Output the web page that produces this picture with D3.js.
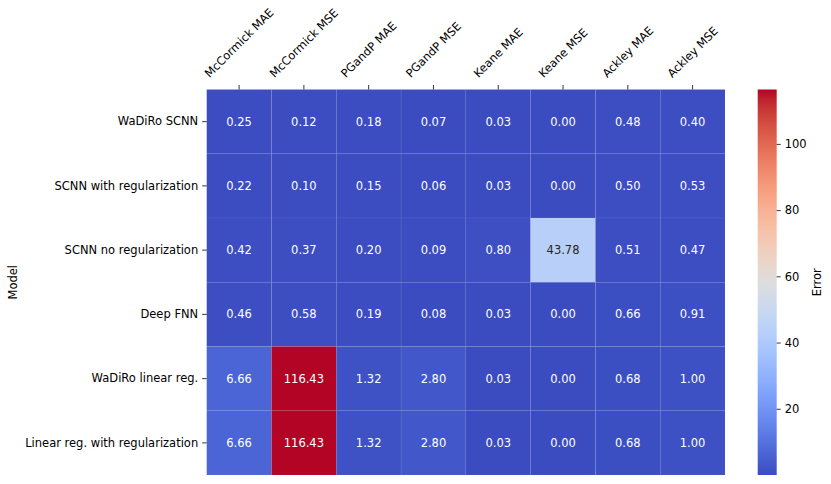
<!DOCTYPE html>
<html><head><meta charset="utf-8">
<script src="https://cdn.jsdelivr.net/npm/d3@7"></script>
<style>body{margin:0;background:#fff}text{font-family:"DejaVu Sans",sans-serif}</style>
</head><body><svg id="c" width="831" height="484"></svg>
<script>
const models = ["WaDiRo SCNN","SCNN with regularization","SCNN no regularization","Deep FNN","WaDiRo linear reg.","Linear reg. with regularization"];
const metrics = ["McCormick MAE","McCormick MSE","PGandP MAE","PGandP MSE","Keane MAE","Keane MSE","Ackley MAE","Ackley MSE"];
const rowWaDiRoSCNN = [0.25,0.12,0.18,0.07,0.03,0.00,0.48,0.40];
const rowSCNNReg    = [0.22,0.10,0.15,0.06,0.03,0.00,0.50,0.53];
const rowSCNNNoReg  = [0.42,0.37,0.20,0.09,0.80,43.78,0.51,0.47];
const rowDeepFNN    = [0.46,0.58,0.19,0.08,0.03,0.00,0.66,0.91];
const rowWaDiRoLin  = [6.66,116.43,1.32,2.80,0.03,0.00,0.68,1.00];
const rowLinReg     = [6.66,116.43,1.32,2.80,0.03,0.00,0.68,1.00];
const values = [rowWaDiRoSCNN,rowSCNNReg,rowSCNNNoReg,rowDeepFNN,rowWaDiRoLin,rowLinReg];
const cbarTicks = [20,40,60,80,100];

// matplotlib coolwarm
const cw = [[0.2298057,0.298717966,0.753683153],[0.26623388,0.353094838,0.801466763],[0.30386891,0.406535296,0.84495867],[0.342804478,0.458757618,0.883725899],[0.38301334,0.50941904,0.917387822],[0.424369608,0.558148092,0.945619588],[0.46666708,0.604562568,0.968154911],[0.509635204,0.648280772,0.98478814],[0.552953156,0.688929332,0.995375608],[0.596262162,0.726149107,0.999836203],[0.639176211,0.759599947,0.998151185],[0.681291281,0.788964712,0.990363227],[0.722193294,0.813952739,0.976574709],[0.761464949,0.834302879,0.956945269],[0.798691636,0.849786142,0.931688648],[0.833466556,0.860207984,0.901068838],[0.865395197,0.86541021,0.865395561],[0.897787179,0.848937047,0.820880546],[0.924127593,0.827384882,0.774508472],[0.944468518,0.800927443,0.726736146],[0.958852946,0.769767752,0.678007945],[0.96732803,0.734132809,0.628751763],[0.969954137,0.694266682,0.579375448],[0.966811177,0.650421156,0.530263762],[0.958003065,0.602842431,0.481775914],[0.943660866,0.551750968,0.434243684],[0.923944917,0.49730856,0.387970225],[0.89904617,0.439559467,0.343229596],[0.869186849,0.378313092,0.300267182],[0.834620542,0.312874446,0.259301199],[0.795631745,0.24128379,0.220525627],[0.752534934,0.157246067,0.184115123],[0.705673158,0.01555616,0.150232812]];
const cwColors = cw.map(c=>d3.rgb(c[0]*255,c[1]*255,c[2]*255));
const coolwarm = d3.scaleLinear().domain(d3.range(cw.length).map(i=>i/(cw.length-1))).range(cwColors).interpolate(d3.interpolateRgb).clamp(true);

const all = values.flat();
const vmin = d3.min(all), vmax = d3.max(all);
const norm = d3.scaleLinear().domain([vmin,vmax]).range([0,1]);
const color = v => coolwarm(norm(v));

const svg = d3.select("#c");
const L = 206.7, R = 725, T = 89.5, B = 475;
const x = d3.scaleBand().domain(metrics).range([L,R]);
const y = d3.scaleBand().domain(models).range([T,B]);
const fs = 11.5;

function lum(c){const f=v=>{v/=255;return v<=0.03928?v/12.92:Math.pow((v+0.055)/1.055,2.4);};return 0.2126*f(c.r)+0.7152*f(c.g)+0.0722*f(c.b);}

const cells = [];
values.forEach((row,i)=>row.forEach((v,j)=>cells.push({m:models[i],k:metrics[j],v})));
const g = svg.append("g");
g.selectAll("rect").data(cells).join("rect")
  .attr("x",d=>x(d.k)).attr("y",d=>y(d.m)).attr("width",x.bandwidth()).attr("height",y.bandwidth())
  .attr("fill",d=>color(d.v)).attr("stroke","rgba(255,255,255,0.06)").attr("stroke-width",0.8);
g.selectAll("text").data(cells).join("text")
  .attr("x",d=>x(d.k)+x.bandwidth()/2).attr("y",d=>y(d.m)+y.bandwidth()/2)
  .attr("text-anchor","middle").attr("dominant-baseline","central")
  .attr("font-size",fs)
  .attr("fill",d=>lum(d3.rgb(color(d.v)))>0.408?"#262626":"#ffffff")
  .text(d=>d.v.toFixed(2));

// y axis
const ya = svg.append("g").attr("transform",`translate(${L},0)`).call(d3.axisLeft(y).tickSize(4.5).tickPadding(4));
ya.select(".domain").remove();
ya.selectAll("text").attr("font-size",fs).attr("fill","#000").style("font-family","DejaVu Sans");
ya.selectAll("line").attr("stroke","#000").attr("stroke-width",0.8);

// x axis top
const xa = svg.append("g").attr("transform",`translate(0,${T})`).call(d3.axisTop(x).tickSize(4.5).tickFormat(""));
xa.select(".domain").remove();
xa.selectAll("line").attr("stroke","#000").attr("stroke-width",0.8);
const bottomY = T-4.5-5.5;
metrics.forEach(m=>{
  const t = svg.append("text").attr("font-size",fs).attr("fill","#000")
    .attr("text-anchor","middle").attr("dominant-baseline","central").text(m);
  const w = t.node().getComputedTextLength();
  const h = fs*1.0;
  const bb = (w+h)/Math.SQRT2;
  const cx = x(m)+x.bandwidth()/2, cy = bottomY - bb/2;
  t.attr("x",0).attr("y",0).attr("transform",`translate(${cx},${cy}) rotate(-45)`);
});

svg.append("text").attr("font-size",fs).attr("text-anchor","middle")
  .attr("transform",`translate(17,${(T+B)/2}) rotate(-90)`).text("Model");

// colorbar
const cbL = 757.7, cbW = 19;
const cy2 = d3.scaleLinear().domain([vmin,vmax]).range([B,T]);
const defs = svg.append("defs");
const grad = defs.append("linearGradient").attr("id","cg").attr("x1",0).attr("y1",1).attr("x2",0).attr("y2",0);
cwColors.forEach((c,i)=>grad.append("stop").attr("offset",i/(cwColors.length-1)).attr("stop-color",c));
svg.append("rect").attr("x",cbL).attr("y",T).attr("width",cbW).attr("height",B-T).attr("fill","url(#cg)");
const ca = svg.append("g").attr("transform",`translate(${cbL+cbW},0)`).call(d3.axisRight(cy2).tickValues(cbarTicks).tickSize(4).tickPadding(4));
ca.select(".domain").remove();
ca.selectAll("text").attr("font-size",fs).attr("fill","#000").style("font-family","DejaVu Sans");
ca.selectAll("line").attr("stroke","#000").attr("stroke-width",0.8);
svg.append("text").attr("font-size",fs).attr("text-anchor","middle")
  .attr("transform",`translate(821,${(T+B)/2}) rotate(-90)`).text("Error");
</script></body></html>
